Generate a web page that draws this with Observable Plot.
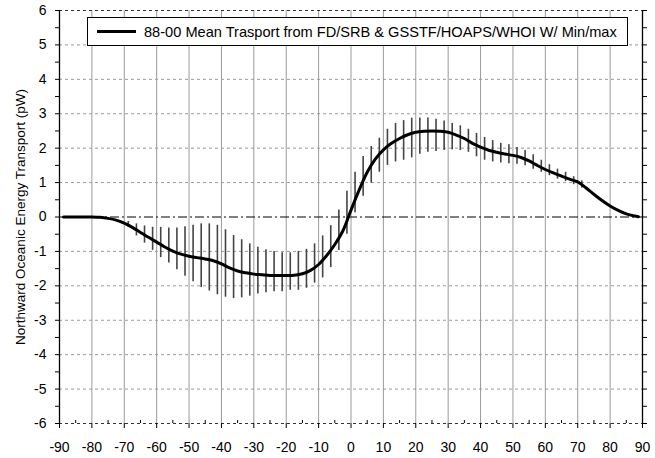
<!DOCTYPE html>
<html><head><meta charset="utf-8">
<script src="https://cdn.jsdelivr.net/npm/d3@7"></script>
<script src="https://cdn.jsdelivr.net/npm/@observablehq/plot@0.6"></script>
<style>
body{margin:0;background:#fff;}
#wrap{position:relative;width:655px;height:458px;}
#legend{position:absolute;left:87px;top:17px;width:539px;height:27px;border:1px solid #000;background:#fff;
 font-family:"Liberation Sans",Arial,sans-serif;font-size:14.6px;display:flex;align-items:center;white-space:nowrap;}
#legend .sw{display:inline-block;width:39px;height:3px;background:#000;margin-left:9px;margin-right:8px;}
</style>
</head><body>
<div id="wrap"><div id="legend"><span class="sw"></span><span id="ltext"></span></div></div>
<script>
const legendLabel = "88-00 Mean Trasport from FD/SRB & GSSTF/HOAPS/WHOI W/ Min/max";
const yLabel = "Northward Oceanic Energy Transport (pW)";
const xTicks = [-90,-80,-70,-60,-50,-40,-30,-20,-10,0,10,20,30,40,50,60,70,80,90];
const xMinor = [-85,-75,-65,-55,-45,-35,-25,-15,-5,5,15,25,35,45,55,65,75,85];
const yTicks = [-6,-5,-4,-3,-2,-1,0,1,2,3,4,5,6];
const yMinor = [-6,-5.5,-5,-4.5,-4,-3.5,-3,-2.5,-2,-1.5,-1,-0.5,0,0.5,1,1.5,2,2.5,3,3.5,4,4.5,5,5.5,6];

const meanLat = [-88.75,-87.5,-85,-82.5,-80,-77.5,-75,-72.5,-70,-67.5,-65,-62.5,-60,-57.5,-55,-52.5,-50,-47.5,-45,-42.5,-40,-37.5,-35,-32.5,-30,-27.5,-25,-22.5,-20,-17.5,-15,-12.5,-10,-7.5,-5,-2.5,0,2.5,5,7.5,10,12.5,15,17.5,20,22.5,25,27.5,30,32.5,35,37.5,40,42.5,45,47.5,50,52.5,55,57.5,60,62.5,65,67.5,70,72.5,75,77.5,80,82.5,85,87.5,88.75];
const meanVal = [0,0,0,0,0,-0.01,-0.04,-0.09,-0.18,-0.30,-0.45,-0.59,-0.73,-0.87,-0.99,-1.08,-1.14,-1.18,-1.22,-1.27,-1.36,-1.48,-1.57,-1.62,-1.66,-1.68,-1.70,-1.70,-1.70,-1.69,-1.65,-1.55,-1.38,-1.12,-0.80,-0.40,0.20,0.78,1.30,1.68,1.95,2.14,2.28,2.39,2.46,2.49,2.50,2.49,2.46,2.38,2.28,2.14,2.03,1.94,1.88,1.83,1.79,1.73,1.63,1.50,1.38,1.28,1.19,1.10,1.02,0.85,0.66,0.48,0.32,0.19,0.09,0.03,0.01];

const barLat = [-68.75,-66.25,-63.75,-61.25,-58.75,-56.25,-53.75,-51.25,-48.75,-46.25,-43.75,-41.25,-38.75,-36.25,-33.75,-31.25,-28.75,-26.25,-23.75,-21.25,-18.75,-16.25,-13.75,-11.25,-8.75,-6.25,-3.75,-1.25,1.25,3.75,6.25,8.75,11.25,13.75,16.25,18.75,21.25,23.75,26.25,28.75,31.25,33.75,36.25,38.75,41.25,43.75,46.25,48.75,51.25,53.75,56.25,58.75,61.25,63.75,66.25,68.75,71.25];
const barMax = [-0.13,-0.20,-0.26,-0.30,-0.30,-0.32,-0.32,-0.28,-0.24,-0.20,-0.20,-0.24,-0.37,-0.54,-0.66,-0.78,-0.88,-0.95,-1.00,-1.04,-1.04,-1.00,-0.94,-0.78,-0.55,-0.25,0.20,0.75,1.30,1.76,2.05,2.29,2.55,2.72,2.80,2.87,2.88,2.88,2.84,2.79,2.72,2.65,2.55,2.43,2.31,2.22,2.14,2.10,2.02,1.93,1.81,1.65,1.52,1.39,1.30,1.17,1.05];
const barMin = [-0.30,-0.55,-0.76,-0.97,-1.18,-1.34,-1.53,-1.72,-1.88,-2.05,-2.15,-2.26,-2.33,-2.37,-2.35,-2.30,-2.24,-2.20,-2.17,-2.17,-2.13,-2.13,-2.07,-1.92,-1.77,-1.47,-0.97,-0.50,0.12,0.60,0.98,1.30,1.50,1.60,1.65,1.72,1.82,1.88,1.90,1.93,1.95,1.93,1.88,1.75,1.65,1.60,1.57,1.55,1.53,1.49,1.39,1.30,1.20,1.10,1.03,0.94,0.84];

const meanData = meanLat.map((lat, i) => ({lat, v: meanVal[i]}));
const barData = barLat.map((lat, i) => ({lat, max: barMax[i], min: barMin[i]}));

document.getElementById("ltext").textContent = legendLabel;

const chart = Plot.plot({
  width: 655, height: 458,
  marginLeft: 59, marginRight: 13, marginTop: 10, marginBottom: 35,
  x: {domain: [-90, 90]},
  y: {domain: [-6, 6]},
  style: {fontFamily: "Liberation Sans, Arial, sans-serif", fontSize: "14px", background: "white", color: "black", overflow: "visible"},
  marks: [
    Plot.ruleX(xTicks.filter(d => d > -90 && d < 90), {stroke: "#9a9a9a", strokeWidth: 1}),
    Plot.ruleY(yTicks.filter(d => d !== 0 && Math.abs(d) !== 6), {stroke: "#9a9a9a", strokeDasharray: "3,3"}),
    Plot.ruleY(yTicks.filter(d => Math.abs(d) === 6), {stroke: "#333", strokeDasharray: "3,3"}),
    Plot.ruleY([0], {stroke: "black", strokeDasharray: "9,3,2,3"}),
    Plot.ruleX(barData, {x: "lat", y1: "min", y2: "max", stroke: "#444", strokeWidth: 1.6}),
    Plot.line(meanData, {x: "lat", y: "v", stroke: "black", strokeWidth: 3, curve: "catmull-rom"}),
    Plot.ruleX([-90, 90], {stroke: "black", strokeWidth: 1.3}),
    Plot.axisY(yMinor, {anchor: "left", tickSize: 4, tickPadding: 9, tickFormat: d => Number.isInteger(d) ? String(d) : "", label: null}),
    Plot.axisY(yMinor, {anchor: "right", tickSize: 4, tickFormat: () => "", label: null}),
    Plot.axisX(xTicks, {anchor: "bottom", tickSize: 5, tickPadding: 14, tickFormat: d => String(d), label: null}),
    Plot.axisX(xMinor, {anchor: "bottom", tickSize: -3, tickFormat: () => "", label: null}),
    Plot.text([yLabel], {frameAnchor: "left", rotate: -90, dx: -39, textAnchor: "middle", fontSize: 13.5})
  ]
});
document.getElementById("wrap").prepend(chart);
</script>
</body></html>
